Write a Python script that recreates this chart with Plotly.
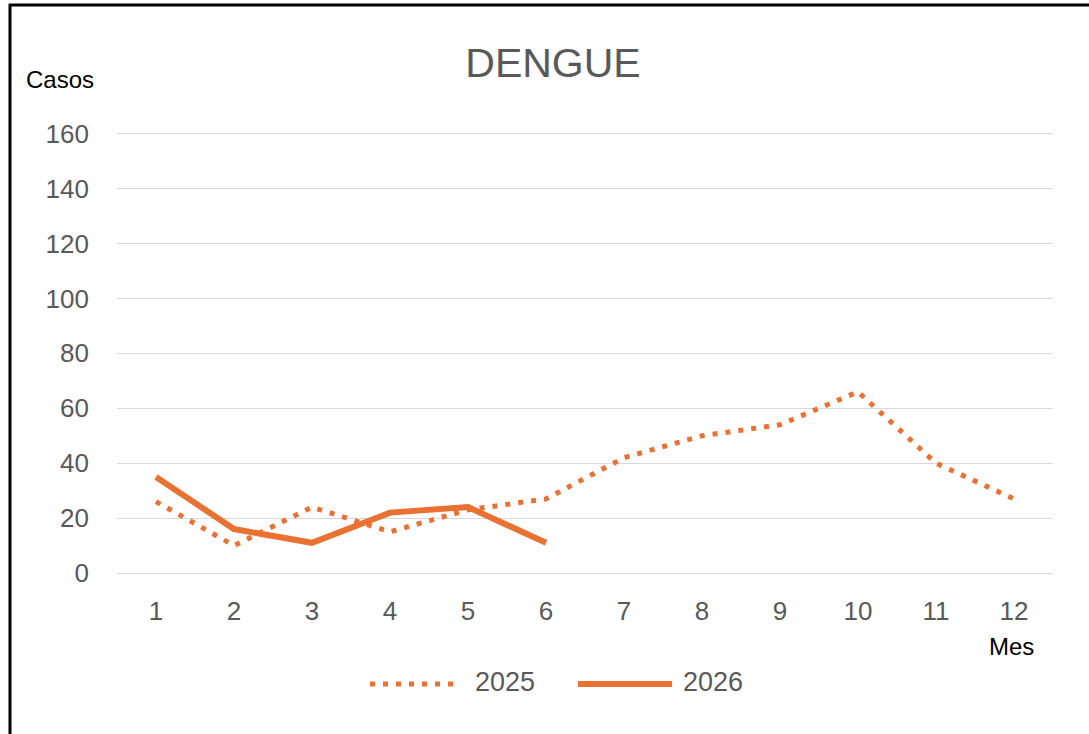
import plotly.graph_objects as go

months = [1, 2, 3, 4, 5, 6, 7, 8, 9, 10, 11, 12]
cases_2025 = [26, 10, 24, 15, 23, 27, 42, 50, 54, 66, 40, 27]
cases_2026 = [35, 16, 11, 22, 24, 11]
series_names = ["2025", "2026"]
y_ticks = [0, 20, 40, 60, 80, 100, 120, 140, 160]

ORANGE = "#E97132"
GRAY = "#595959"
FONT = "Liberation Sans, Arial, sans-serif"

W, H = 1089, 734
L, R, T, B = 117, 36, 131, 161
Y_MAX = 161  # a little headroom so the 160 gridline is drawn


def px(x):
    # pixel x -> paper x
    return (x - L) / (W - L - R)


def py(y):
    # pixel y -> paper y
    return (H - B - y) / (H - T - B)


fig = go.Figure()

fig.add_trace(
    go.Scatter(
        x=months,
        y=cases_2025,
        mode="lines",
        name=series_names[0],
        line=dict(color=ORANGE, width=5, dash="5px,8px"),
        showlegend=False,
    )
)
fig.add_trace(
    go.Scatter(
        x=months[: len(cases_2026)],
        y=cases_2026,
        mode="lines",
        name=series_names[1],
        line=dict(color=ORANGE, width=6),
        showlegend=False,
    )
)

# legend drawn by hand so the sample lines are as long as in the original
legend_y = py(684)
shapes = [
    dict(type="line", xref="paper", yref="paper", x0=px(370), x1=px(458),
         y0=legend_y, y1=legend_y, line=dict(color=ORANGE, width=5, dash="5px,8px")),
    dict(type="line", xref="paper", yref="paper", x0=px(578), x1=px(672),
         y0=legend_y, y1=legend_y, line=dict(color=ORANGE, width=6)),
    # outer frame (top and left edges only)
    dict(type="line", xref="paper", yref="paper", x0=px(9), x1=px(W + 5),
         y0=py(5), y1=py(5), line=dict(color="black", width=3)),
    dict(type="line", xref="paper", yref="paper", x0=px(10), x1=px(10),
         y0=py(4), y1=py(H + 5), line=dict(color="black", width=3)),
]

annotations = [
    dict(text=series_names[0], x=px(473), y=py(682), xanchor="left", yanchor="middle"),
    dict(text=series_names[1], x=px(681), y=py(682), xanchor="left", yanchor="middle"),
]
for a in annotations:
    a.update(xref="paper", yref="paper", showarrow=False,
             font=dict(family=FONT, size=27, color=GRAY))

annotations += [
    dict(text="Casos", x=px(60), y=py(80), xref="paper", yref="paper",
         showarrow=False, xanchor="center", yanchor="middle",
         font=dict(family=FONT, size=24, color="black")),
    dict(text="Mes", x=px(1011), y=py(646), xref="paper", yref="paper",
         showarrow=False, xanchor="center", yanchor="middle",
         font=dict(family=FONT, size=24, color="black")),
]

fig.update_layout(
    width=W,
    height=H,
    margin=dict(l=L, r=R, t=T, b=B),
    paper_bgcolor="white",
    plot_bgcolor="white",
    title=dict(
        text="DENGUE",
        x=553 / W,
        xanchor="center",
        y=1 - 63 / H,
        yanchor="middle",
        font=dict(family=FONT, size=41, color=GRAY),
    ),
    xaxis=dict(
        type="category",
        range=[-0.5, 11.5],
        showgrid=False,
        showline=False,
        ticks="",
        ticklabelstandoff=20,
        tickfont=dict(family=FONT, size=26, color=GRAY),
    ),
    yaxis=dict(
        range=[0, Y_MAX],
        tickvals=y_ticks,
        gridcolor="#D9D9D9",
        gridwidth=1,
        zeroline=True,
        zerolinecolor="#D9D9D9",
        zerolinewidth=1,
        showline=False,
        ticks="",
        ticklabelstandoff=27,
        tickfont=dict(family=FONT, size=26, color=GRAY),
    ),
    shapes=shapes,
    annotations=annotations,
    showlegend=False,
)

# the page gets no body margin so the figure sits at the window's corner
fig.write_html(
    "out.html",
    config={"displayModeBar": False},
    post_script="document.body.style.margin='0';",
)
